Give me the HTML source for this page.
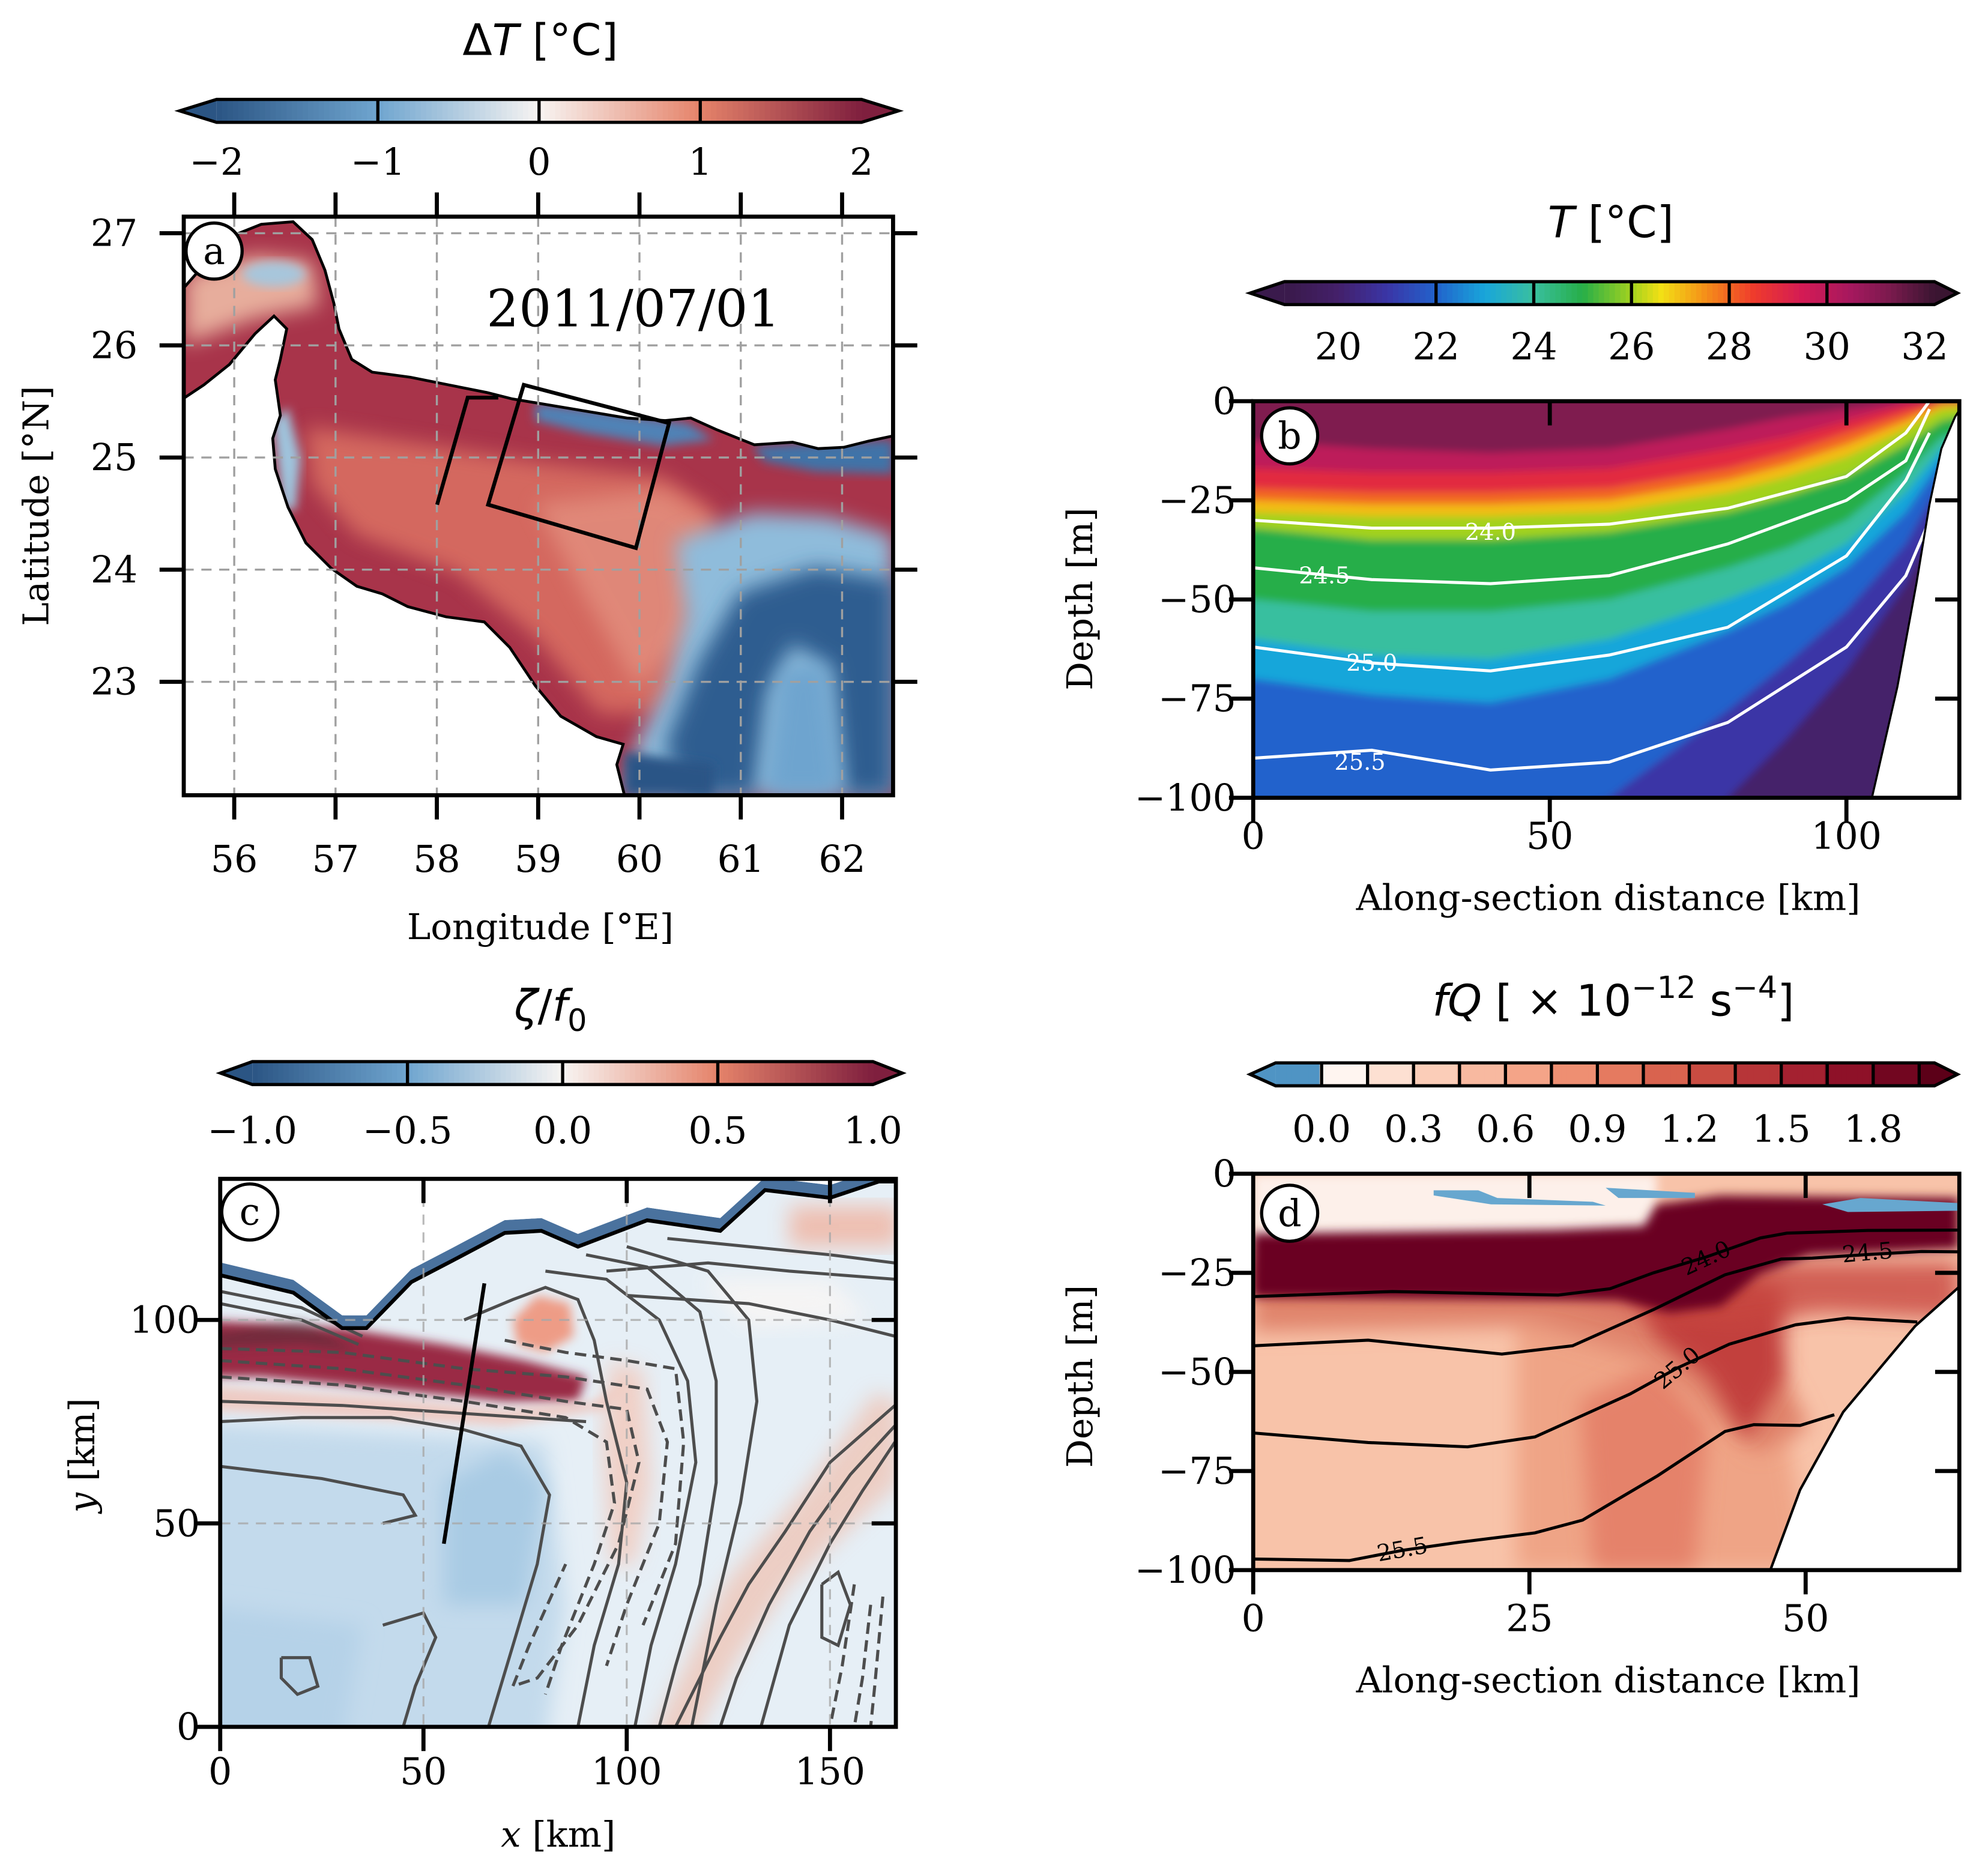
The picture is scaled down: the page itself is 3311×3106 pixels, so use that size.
<!DOCTYPE html>
<html><head><meta charset="utf-8"><style>
html,body{margin:0;padding:0;background:#fff;}
svg{display:block;}
.tk{font-family:"DejaVu Serif","Liberation Serif",serif;font-size:29px;fill:#000;}
.lb{font-family:"DejaVu Serif","Liberation Serif",serif;font-size:28px;fill:#000;}
.tt{font-family:"DejaVu Sans","Liberation Sans",sans-serif;font-size:34px;fill:#000;}
</style></head><body>
<svg id="fig" xmlns="http://www.w3.org/2000/svg" width="3311" height="3106" viewBox="0 0 1560 1463.4" preserveAspectRatio="none">
<defs>
<filter id="bl8" x="-20%" y="-20%" width="140%" height="140%"><feGaussianBlur stdDeviation="8"/></filter>
<filter id="bl4" x="-20%" y="-20%" width="140%" height="140%"><feGaussianBlur stdDeviation="4"/></filter>
<filter id="bl3" x="-5%" y="-5%" width="110%" height="110%"><feGaussianBlur stdDeviation="3"/></filter>
<clipPath id="clipA"><path d="M145,225 L160,208 L180,186 L205,176 L230,174 L245,188 L255,212 L262,238 L266,258 L276,282 L292,292 L322,296 L352,302 L382,308 L402,313 L432,318 L462,323 L492,328 L522,330 L542,328 L562,337 L592,349 L622,347 L642,352 L662,351 L682,346 L701,342 L701,624 L490,624 L484,600 L489,584 L468,578 L440,562 L420,538 L400,508 L380,488 L350,484 L320,476 L300,466 L280,460 L260,446 L240,426 L226,398 L216,368 L214,344 L220,326 L216,298 L220,282 L225,258 L215,248 L200,262 L180,286 L160,302 L145,312 Z"/></clipPath>
<clipPath id="clipB"><rect x="983.4" y="314.8" width="554.1" height="311.2"/></clipPath>
<clipPath id="clipC"><rect x="172.8" y="925" width="530.2" height="430"/></clipPath>
<clipPath id="clipD"><rect x="983.4" y="921" width="554.1" height="311"/></clipPath>
</defs>

<!-- ================= PANEL A ================= -->
<g>
<text class="tt" x="424" y="43" text-anchor="middle">Δ<tspan font-style="italic">T</tspan> [°C]</text>
<g id="cbA"></g>
<g clip-path="url(#clipA)">
  <rect x="144" y="170" width="557" height="454" fill="#a8344a"/>
  <path d="M240,335 L330,348 L420,362 L520,374 L560,400 L560,520 L520,560 L470,560 L420,500 L360,450 L280,420 L245,380 Z" fill="#d96e62" filter="url(#bl8)" opacity="0.9"/>
  <path d="M420,395 L520,385 L560,410 L540,500 L500,540 L460,470 Z" fill="#e59583" filter="url(#bl8)" opacity="0.7"/>
  <path d="M145,215 L200,200 L245,205 L250,240 L200,250 L145,270 Z" fill="#e7ad9c" filter="url(#bl8)"/>
  <ellipse cx="215" cy="215" rx="25" ry="10" fill="#a7c6dc" filter="url(#bl4)"/>
  <path d="M214,330 L226,320 L236,360 L232,400 L222,400 Z" fill="#9fc4dd" filter="url(#bl4)"/>
  <path d="M420,316 L470,322 L540,332 L560,345 L520,350 L460,340 L420,330 Z" fill="#4f82b6" filter="url(#bl4)"/>
  <path d="M590,350 L701,345 L701,372 L640,370 L600,362 Z" fill="#3f73a8" filter="url(#bl4)"/>
  <path d="M530,425 L590,402 L650,405 L701,420 L701,624 L490,624 L500,582 L522,540 L538,482 Z" fill="#8fbcdb" filter="url(#bl8)"/>
  <path d="M548,520 L580,465 L640,445 L701,455 L701,624 L662,624 L652,525 L622,505 L602,545 L592,624 L540,624 L522,585 Z" fill="#2f5d90" filter="url(#bl8)"/>
  <path d="M612,525 L648,520 L660,624 L600,624 Z" fill="#6ea4cf" filter="url(#bl8)"/>
  <path d="M490,590 L560,600 L560,624 L490,624 Z" fill="#2a5586" filter="url(#bl4)"/>
</g>
<path d="M145,225 L160,208 L180,186 L205,176 L230,174 L245,188 L255,212 L262,238 L266,258 L276,282 L292,292 L322,296 L352,302 L382,308 L402,313 L432,318 L462,323 L492,328 L522,330 L542,328 L562,337 L592,349 L622,347 L642,352 L662,351 L682,346 L701,342 M701,624 L490,624 L484,600 L489,584 L468,578 L440,562 L420,538 L400,508 L380,488 L350,484 L320,476 L300,466 L280,460 L260,446 L240,426 L226,398 L216,368 L214,344 L220,326 L216,298 L220,282 L225,258 L215,248 L200,262 L180,286 L160,302 L145,312" fill="none" stroke="#000" stroke-width="2.2"/>
<g id="gridA"></g>
<path d="M343,396 L367,312 L391,312" fill="none" stroke="#000" stroke-width="3"/>
<path d="M411,302 L525,332 L499,430 L383,396 Z" fill="none" stroke="#000" stroke-width="3"/>
<text x="497" y="256" font-family="DejaVu Serif, Liberation Serif, serif" font-size="40" text-anchor="middle">2011/07/01</text>
<rect x="144.2" y="170" width="556.6" height="454" fill="none" stroke="#000" stroke-width="3.2"/>
<g id="ticksA"></g>
<circle cx="168" cy="197" r="22" fill="#fff" stroke="#000" stroke-width="2.5"/>
<text class="tk" x="168" y="207" text-anchor="middle">a</text>
<text class="lb" x="424" y="737" text-anchor="middle">Longitude [°E]</text>
<text class="lb" transform="translate(38,397) rotate(-90)" text-anchor="middle">Latitude [°N]</text>
</g>

<!-- ================= PANEL B ================= -->
<g>
<text class="tt" x="1264" y="186" text-anchor="middle"><tspan font-style="italic">T</tspan> [°C]</text>
<g id="cbB"></g>
<g clip-path="url(#clipB)">
 <g id="fieldB" filter="url(#bl3)"></g>
 <g id="overB"></g>
</g>
<rect x="983.4" y="314.8" width="554.1" height="311.2" fill="none" stroke="#000" stroke-width="3.2"/>
<g id="ticksB"></g>
<circle cx="1012" cy="342" r="22" fill="#fff" stroke="#000" stroke-width="2.5"/>
<text class="tk" x="1012" y="352" text-anchor="middle">b</text>
<text class="lb" x="1262" y="714" text-anchor="middle">Along-section distance [km]</text>
<text class="lb" transform="translate(857,470) rotate(-90)" text-anchor="middle">Depth [m]</text>
</g>

<!-- ================= PANEL C ================= -->
<g>
<text class="tt" x="432" y="801" text-anchor="middle"><tspan font-style="italic">ζ</tspan>/<tspan font-style="italic">f</tspan><tspan font-size="24" dy="8">0</tspan></text>
<g id="cbC"></g>
<g clip-path="url(#clipC)">
  <g id="bgC"></g>
  <g id="contC"></g>
  <path id="landC" d="" fill="#fff" stroke="#4a729e" stroke-width="10"/>
  <path id="landC2" d="" fill="#fff"/>
  <path id="coastC" d="" fill="none" stroke="#000" stroke-width="3"/>
</g>
<g id="gridC"></g>
<path id="secC" d="" fill="none" stroke="#000" stroke-width="3"/>
<rect x="172.8" y="925" width="530.2" height="430" fill="none" stroke="#000" stroke-width="3.2"/>
<g id="ticksC"></g>
<circle cx="196" cy="951" r="22" fill="#fff" stroke="#000" stroke-width="2.5"/>
<text class="tk" x="196" y="961" text-anchor="middle">c</text>
<text class="lb" x="438" y="1449" text-anchor="middle"><tspan font-style="italic">x</tspan> [km]</text>
<text class="lb" transform="translate(74,1142) rotate(-90)" text-anchor="middle"><tspan font-style="italic">y</tspan> [km]</text>
</g>

<!-- ================= PANEL D ================= -->
<g>
<text class="tt" x="1266" y="797" text-anchor="middle"><tspan font-style="italic">fQ</tspan> [ × 10<tspan font-size="24" dy="-14">−12</tspan><tspan dy="14"> s</tspan><tspan font-size="24" dy="-14">−4</tspan><tspan dy="14">]</tspan></text>
<g id="cbD"></g>
<g clip-path="url(#clipD)">
  <rect x="983" y="921" width="556" height="312" fill="#f8c3a9"/>
  <path d="M1190,1030 L1300,1060 L1400,1110 L1420,1232 L1190,1232 Z" fill="#efa486" filter="url(#bl8)"/>
  <path d="M1240,1100 L1300,1070 L1340,1120 L1330,1232 L1250,1232 Z" fill="#e5826a" filter="url(#bl8)"/>
  <path d="M983,1005 L1220,1010 L1300,1030 L1390,1060 L1420,1120 L1380,1140 L1300,1070 L1200,1040 L983,1045 Z" fill="#e0846c" filter="url(#bl8)"/>
  <path d="M1280,1010 L1340,1000 L1400,1010 L1400,1080 L1370,1130 L1340,1080 L1300,1050 Z" fill="#c2413d" filter="url(#bl8)"/>
  <path d="M983,921 L1300,921 L1300,975 L983,975 Z" fill="#fdf0ea" filter="url(#bl4)"/>
  <path d="M983,1010 L1220,1015 L1300,1035 L1360,1040 L1430,1030 L1537,1035 L1537,990 L983,990 Z" fill="#c8473f" filter="url(#bl8)" opacity="0.8"/>
  <path d="M983,968 L1220,965 L1290,962 L1300,945 L1350,938 L1537,940 L1537,980 L1420,985 L1380,1000 L1350,1025 L1310,1030 L1270,1020 L983,1018 Z" fill="#6b0020" filter="url(#bl4)"/>
  <path d="M1260,932 L1330,936 L1330,940 L1270,940 Z" fill="#67a7cf"/>
  <path d="M1125,934 L1160,934 L1175,940 L1250,943 L1260,946 L1170,945 L1125,938 Z" fill="#67a7cf"/>
  <path d="M1430,945 L1460,940 L1537,944 L1537,950 L1450,951 Z" fill="#67a7cf"/>
  <path id="bathD" d="" fill="#fff" stroke="#000" stroke-width="2"/>
  <g id="contD"></g>
</g>
<rect x="983.4" y="921" width="554.1" height="311" fill="none" stroke="#000" stroke-width="3.2"/>
<g id="ticksD"></g>
<circle cx="1012" cy="952" r="22" fill="#fff" stroke="#000" stroke-width="2.5"/>
<text class="tk" x="1012" y="962" text-anchor="middle">d</text>
<text class="lb" x="1262" y="1328" text-anchor="middle">Along-section distance [km]</text>
<text class="lb" transform="translate(857,1080) rotate(-90)" text-anchor="middle">Depth [m]</text>
</g>
</svg>
<script>
// ---------- data ----------
const lonTicks=[56,57,58,59,60,61,62];
const latTicks=[23,24,25,26,27];
const cbATicks=[-2,-1,0,1,2];
const cbBTicks=[20,22,24,26,28,30,32];
const cbCTicks=[-1.0,-0.5,0.0,0.5,1.0];
const cbDTicks=[0.0,0.3,0.6,0.9,1.2,1.5,1.8];
const cbDLevels=[-0.15,0,0.15,0.3,0.45,0.6,0.75,0.9,1.05,1.2,1.35,1.5,1.65,1.8,1.95,2.0];
const bXTicks=[0,50,100];
const bYTicks=[0,-25,-50,-75,-100];
const cXTicks=[0,50,100,150];
const cYTicks=[0,50,100];
const dXTicks=[0,25,50];
const dYTicks=[0,-25,-50,-75,-100];
// panel b: isotherm depths
const bDist=[0,20,40,60,80,90,100,110,116,130];
const bIsoLevels=[30.5,29.5,28.5,27.5,26.5,25.5,24.5,23.5,22.5,21.5,20.5];
const bIso305=[-10,-12,-13,-12,-7,-4,-2,0,0,0];
const bIso295=[-17,-18,-18,-17,-12,-9,-5,-1,0,0];
const bIso285=[-22,-23,-23,-22,-17,-13,-8,-3,0,0];
const bIso275=[-25,-26,-26,-25,-20,-16,-11,-5,-1,0];
const bIso265=[-28,-29,-29,-28,-23,-19,-14,-7,-2,0];
const bIso255=[-32,-35,-35,-33,-28,-24,-19,-11,-5,0];
const bIso245=[-50,-53,-53,-50,-42,-37,-30,-18,-9,-3];
const bIso235=[-60,-64,-65,-60,-50,-44,-36,-23,-12,-5];
const bIso225=[-70,-74,-76,-70,-58,-51,-42,-28,-15,-7];
const bIso215=[-105,-108,-108,-100,-78,-66,-53,-36,-20,-9];
const bIso205=[-130,-130,-130,-125,-100,-85,-68,-46,-26,-12];
// panel b density contours
const bSigLabels=['24.0','24.5','25.0','25.5'];
const bSigDist=[0,20,40,60,80,100,110,114];
const bSig240=[-30,-32,-32,-31,-27,-19,-8,0];
const bSig245=[-42,-45,-46,-44,-36,-25,-15,-2];
const bSig250=[-62,-66,-68,-64,-57,-39,-20,-8];
const bSig255=[-90,-88,-93,-91,-81,-62,-44,-30];
const bBathDist=[104.3,108.6,111.8,114,116,118.3,120];
const bBathDepth=[-100,-72,-46,-26,-12,-4,0];
// panel c coast (x km, y km)
const cCoastX=[0,18,30,36,47,57,70,79,88,105,123,134,150,162,167];
const cCoastY=[111,106.7,98,98,109.3,114.5,121.4,121.9,118,124.5,121.9,131.9,130,134,134];
// panel c contours
const cSolid1X=[0,20,42,60,74,81,78,72,66], cSolid1Y=[75,76,76,73,69,57,40,20,0];
const cSolid2X=[0,25,45,48,40], cSolid2Y=[64,61,57,52,50];
const cSolid3X=[40,50,53,48,45], cSolid3Y=[25,28,22,10,0];
const cSolid4X=[15,22,24,19,15,15], cSolid4Y=[17,17,10,8,12,17];
const cSolid5X=[60,72,80,88,92,95,100,98,92,88], cSolid5Y=[100,105,108,105,95,80,60,40,20,0];
const cSolid6X=[80,95,108,115,117,112,106,102], cSolid6Y=[112,110,100,85,65,40,20,0];
const cSolid7X=[90,105,118,122,122,118,112,108], cSolid7Y=[116,113,102,85,60,35,15,0];
const cSolid8X=[100,120,130,132,128,122,116], cSolid8Y=[118,112,100,80,55,30,0];
const cSolid9X=[166,150,139,130,123,117,112], cSolid9Y=[79,65,48,35,22,10,0];
const cSolid10X=[166,155,145,135,127,123], cSolid10Y=[74,62,48,30,12,0];
const cSolid11X=[166,158,150,140,133], cSolid11Y=[70,58,45,25,0];
const cSolid12X=[148,152,155,152,148,148], cSolid12Y=[35,38,30,20,22,35];
const cSolid13X=[0,20,35], cSolid13Y=[107,103,96];
const cSolid14X=[110,130,150,166], cSolid14Y=[120,118,116,114];
const cSolid15X=[95,120,140,166], cSolid15Y=[112,114,112,110];
const cSolid16X=[100,130,150,166], cSolid16Y=[106,104,100,96];
const cSolid17X=[0,20,34], cSolid17Y=[104,100,94];
const cSolid18X=[0,30,60,90], cSolid18Y=[80,79,77,75];
const cDash1X=[0,30,60,85,100,103,98,88,78,72,76,85], cDash1Y=[90,88,84,80,78,65,45,25,12,10,20,40];
const cDash2X=[0,30,60,85,95,97,92,84,80], cDash2Y=[86,84,80,76,70,55,40,20,8];
const cDash3X=[0,30,60,85,105,110,108,100,95], cDash3Y=[93,92,88,86,83,70,50,30,15];
const cDash4X=[70,85,100,112,114,112,104], cDash4Y=[95,92,90,88,70,45,25];
const cDash5X=[156,153,150], cDash5Y=[35,15,0];
const cDash6X=[160,158,156], cDash6Y=[30,12,0];
const cDash7X=[163,161,160], cDash7Y=[32,10,0];
const cSecX=[55,65], cSecY=[45,109];
// panel d density contours
const dSig240D=[0,12.6,27.6,32.3,36.2,41,45.9,48.3,55.6,64.4], dSig240Z=[-31,-29.7,-30.6,-29,-25,-21,-16.2,-15,-14.3,-14.2];
const dSig245D=[0,10.4,22.5,28.9,36.2,42.7,47.8,50.6,55.6,60.5,64.4], dSig245Z=[-43.4,-42,-45.5,-43.4,-34.3,-25.5,-21.5,-21.3,-20.4,-19.6,-19.7];
const dSig250D=[0,10.4,19.4,25.5,34.1,38.4,43.1,49.1,53.8,60.1], dSig250Z=[-65.4,-67.8,-68.9,-66.4,-55.6,-49,-43,-38.1,-36.4,-37.4];
const dSig255D=[0,8.7,13.5,18.6,25.5,29.8,36.6,42.7,45.3,49.5,52.6], dSig255Z=[-97.2,-97.6,-95,-93,-90.6,-87.4,-76.2,-65,-63.3,-63.5,-60.8];
const dLabels=['24.0','24.5','25.0','25.5'];
const dLabelD=[41,55.6,38.4,13.5], dLabelZ=[-21.3,-19.9,-49,-94.8], dLabelRot=[-25,-5,-40,-10];
const dBathD=[46.8,49.5,53.4,59.9,64.4,66], dBathZ=[-100,-79.7,-60.1,-38.5,-27.3,-25];

// ---------- helpers ----------
const NS='http://www.w3.org/2000/svg';
function mk(tag,attrs,parent){const e=document.createElementNS(NS,tag);for(const k in attrs)e.setAttribute(k,attrs[k]);parent.appendChild(e);return e;}
function hex(c){return [parseInt(c.slice(1,3),16),parseInt(c.slice(3,5),16),parseInt(c.slice(5,7),16)];}
function cmap(stops,v){if(v<=stops[0][0])return stops[0][1];if(v>=stops[stops.length-1][0])return stops[stops.length-1][1];
 for(let i=1;i<stops.length;i++){if(v<=stops[i][0]){const t=(v-stops[i-1][0])/(stops[i][0]-stops[i-1][0]);const a=hex(stops[i-1][1]),b=hex(stops[i][1]);
 return 'rgb('+a.map((x,j)=>Math.round(x+(b[j]-x)*t)).join(',')+')';}}}
const thermal=[[19,'#3a1a4c'],[20,'#44206a'],[21,'#3a35a6'],[22,'#2262cc'],[23,'#19a6da'],[24,'#39bf9f'],[25,'#27ae48'],[26,'#a3d21f'],[26.6,'#f2e015'],[27.5,'#f59019'],[28.5,'#ef3b2c'],[29.5,'#d41b55'],[30.5,'#a5185e'],[31.3,'#7a1a4d'],[32.2,'#3a1531']];
const rdbu=[[-1,'#2b5584'],[-0.5,'#6fa5cf'],[0,'#f7f4f2'],[0.5,'#e5836a'],[1,'#7f1f3e']];
const dColors=['#4f94c4','#fff5f0','#fde0d2','#fbcdb8','#f8b9a0','#f4a488','#ee8f72','#e57a60','#d9634f','#c94c42','#b73538','#a42130','#8e1128','#720620','#5c0018'];
function fmt(v,d){const s=Math.abs(v).toFixed(d);return (v<0?'−':'')+s;}

function colorbar(gid,x0,x1,tipL,tipR,y0,y1,vmin,vmax,ticks,dec,fillFn,divs,labelY){
 const g=document.getElementById(gid);
 const sx=v=>x0+(v-vmin)/(vmax-vmin)*(x1-x0);
 const ym=(y0+y1)/2;
 const tl=mk('path',{d:`M${x0},${y0} L${tipL},${ym} L${x0},${y1} Z`,fill:fillFn(vmin-1e-3,true)},g);
 
 
 const tr=mk('path',{d:`M${x1},${y0} L${tipR},${ym} L${x1},${y1} Z`,fill:fillFn(vmax+1e-3,true)},g);
 
 
 const N=120;
 for(let i=0;i<N;i++){const v=vmin+(i+0.5)/N*(vmax-vmin);
  const r=mk('rect',{x:x0+i*(x1-x0)/N,y:y0,width:(x1-x0)/N+0.6,height:y1-y0,fill:fillFn(v,false)},g);
  
  }
 divs.forEach(v=>{const l=mk('line',{x1:sx(v),x2:sx(v),y1:y0,y2:y1,stroke:'#000','stroke-width':2.5},g);
  
  });
 const o=mk('path',{d:`M${x0},${y0} L${x1},${y0} L${tipR},${ym} L${x1},${y1} L${x0},${y1} L${tipL},${ym} Z`,fill:'none',stroke:'#000','stroke-width':2.5},g);
 
 
 ticks.forEach(v=>{const t=mk('text',{x:sx(v),y:labelY,'text-anchor':'middle',class:'tk'},g);t.textContent=fmt(v,dec);
  
  });
}
function ticks(gid,vals,pos,side,inward,len,labelFn,lx,ly,anchor){
 const g=document.getElementById(gid);
 vals.forEach(v=>{const p=pos(v);let a;
  if(side==='b')a=[p,ly[0],p,ly[0]+(inward?-len:len)];
  if(side==='t')a=[p,ly[0],p,ly[0]+(inward?len:-len)];
  if(side==='l')a=[lx[0],p,lx[0]+(inward?len:-len),p];
  if(side==='r')a=[lx[0],p,lx[0]+(inward?-len:len),p];
  const l=mk('line',{x1:a[0],y1:a[1],x2:a[2],y2:a[3],stroke:'#000','stroke-width':3.2},g);
  
  
  if(labelFn){const t=mk('text',{class:'tk','text-anchor':anchor,x:(side==='l'?lx[1]:p),y:(side==='l'?p+10:ly[1])},g);t.textContent=labelFn(v);
   
   }
 });
}
function pathOf(xs,ys,fx,fy){return xs.map((x,i)=>(i?'L':'M')+fx(x).toFixed(1)+','+fy(ys[i]).toFixed(1)).join(' ');}

// ---------- panel A ----------
const ax=v=>183.8+(v-56)*79.5, ay=v=>183+(27-v)*88;
colorbar('cbA',170,676,141,705,78,96,-2,2,cbATicks,0,(v)=>cmap(rdbu,v/2),[-1,0,1],137);
const gA=document.getElementById('gridA');
lonTicks.forEach(v=>{const l=mk('line',{x1:ax(v),x2:ax(v),y1:170,y2:624,stroke:'#a0a0a0','stroke-width':1.6,'stroke-dasharray':'8,6'},gA);
 
 });
latTicks.forEach(v=>{const l=mk('line',{x1:144,x2:701,y1:ay(v),y2:ay(v),stroke:'#a0a0a0','stroke-width':1.6,'stroke-dasharray':'8,6'},gA);
 
 });
ticks('ticksA',lonTicks,ax,'b',false,19,v=>String(v),null,[624,684],'middle');
ticks('ticksA',lonTicks,ax,'t',false,19,null,null,[170,0],'middle');
ticks('ticksA',latTicks,ay,'l',false,19,v=>String(v),[144.2,108],null,'end');
ticks('ticksA',latTicks,ay,'r',false,19,null,[700.8,0],null,'end');

// ---------- panel B ----------
const bx=v=>983.4+v*4.655, by=v=>314.8-v*3.112;
colorbar('cbB',1008,1518,981,1536,221,239,18.9,32.2,cbBTicks,0,(v)=>cmap(thermal,v),[22,24,26,28,30],282);
const fB=document.getElementById('fieldB');
const bg=mk('rect',{x:975,y:300,width:580,height:340,fill:cmap(thermal,31.2)},fB);


const bIsoAll=[bIso305,bIso295,bIso285,bIso275,bIso265,bIso255,bIso245,bIso235,bIso225,bIso215,bIso205];
bIsoAll.forEach((arr,i)=>{const d='M'+bx(-5)+','+by(arr[0])+' '+pathOf(bDist,arr,bx,by).replace('M','L')+` L${bx(130)},${by(-140)} L${bx(-5)},${by(-140)} Z`;
 const p=mk('path',{d:d,fill:cmap(thermal,bIsoLevels[i]-0.5)},fB);
 
 });
const oB=document.getElementById('overB');
[bSig240,bSig245,bSig250,bSig255].forEach((arr,i)=>{const p=mk('path',{d:pathOf(bSigDist,arr,bx,by),fill:'none',stroke:'#fff','stroke-width':2.4},oB);
 
 });
const bLabX=[40,12,20,18], bLabY=[-33,-44,-66,-91];
bSigLabels.forEach((s,i)=>{const t=mk('text',{x:bx(bLabX[i]),y:by(bLabY[i])+6,'text-anchor':'middle','font-family':'DejaVu Serif, Liberation Serif, serif','font-size':18,fill:'#fff'},oB);t.textContent=s;
 
 });
const bb=mk('path',{d:pathOf(bBathDist,bBathDepth,bx,by)+` L${bx(125)},${by(0)} L${bx(125)},${by(-110)} Z`,fill:'#fff',stroke:'#000','stroke-width':1.6},oB);


ticks('ticksB',bXTicks,bx,'b',false,19,v=>String(v),null,[626,666],'middle');
ticks('ticksB',bXTicks.slice(1),bx,'t',true,19,null,null,[314.8,0],'middle');
ticks('ticksB',bYTicks,by,'l',false,19,v=>fmt(v,0),[983.4,970],null,'end');
ticks('ticksB',bYTicks.slice(1,4),by,'r',true,19,null,[1537.5,0],null,'end');

// ---------- panel C ----------
const cx=v=>172.8+v*3.19, cy=v=>1355-v*3.193;
function kp(pts){return pts.map((p,i)=>(i?'L':'M')+cx(p[0]).toFixed(1)+','+cy(p[1]).toFixed(1)).join(' ')+' Z';}
colorbar('cbC',198,685,173,708,833,851,-1,1,cbCTicks,1,(v)=>cmap(rdbu,v),[-0.5,0,0.5],897);
const bgC=document.getElementById('bgC');
[
 [[[-5,-5],[170,-5],[170,140],[-5,140]],'#e6eff6',null,1],
 [[[-5,-5],[80,-5],[85,30],[80,70],[-5,75]],'#c3daec','url(#bl8)',1],
 [[[55,30],[75,30],[80,60],[70,68],[55,60]],'#a9cbe4','url(#bl8)',1],
 [[[-5,-5],[30,-5],[35,25],[-5,30]],'#b5d2e8','url(#bl8)',1],
 [[[-5,100],[30,98],[55,94],[75,90],[90,86],[88,80],[70,80],[40,83],[10,86],[-5,86]],'#9a2a45','url(#bl4)',1],
 [[[-5,84],[40,81],[70,78],[92,80],[100,85],[95,78],[70,74],[30,76],[-5,78]],'#f0c2b8','url(#bl4)',0.8],
 [[[73,94],[80,92],[87,96],[86,104],[78,106],[72,100]],'#ee9c86','url(#bl4)',1],
 [[[96,90],[104,88],[106,60],[102,40],[96,40],[94,70]],'#f3c8ba','url(#bl8)',0.8],
 [[[161,82],[167,80],[167,60],[140,35],[128,18],[115,-5],[105,-5],[112,10],[124,35],[145,60]],'#f1b7a2','url(#bl8)',0.6],
 [[[140,118],[167,118],[167,128],[140,128]],'#f0b3a0','url(#bl8)',0.8],
 [[[118,110],[150,110],[160,100],[130,98]],'#f7f5f4','url(#bl8)',0.9],
 [[[-5,96],[20,100],[34,92],[20,94],[-5,93]],'#2f2f2f','url(#bl4)',0.35]
].forEach(s=>{const p=mk('path',{d:kp(s[0]),fill:s[1],opacity:s[3]},bgC);if(s[2])p.setAttribute('filter',s[2]);
 
 });
const gC=document.getElementById('contC');
const solids=[[cSolid1X,cSolid1Y],[cSolid2X,cSolid2Y],[cSolid3X,cSolid3Y],[cSolid4X,cSolid4Y],[cSolid5X,cSolid5Y],[cSolid6X,cSolid6Y],[cSolid7X,cSolid7Y],[cSolid8X,cSolid8Y],[cSolid9X,cSolid9Y],[cSolid10X,cSolid10Y],[cSolid11X,cSolid11Y],[cSolid12X,cSolid12Y],[cSolid13X,cSolid13Y],[cSolid14X,cSolid14Y],[cSolid15X,cSolid15Y],[cSolid16X,cSolid16Y],[cSolid17X,cSolid17Y],[cSolid18X,cSolid18Y]];
solids.forEach(s=>{const p=mk('path',{d:pathOf(s[0],s[1],cx,cy),fill:'none',stroke:'#4d4d4d','stroke-width':2.4},gC);
 
 });
const dashes=[[cDash1X,cDash1Y],[cDash2X,cDash2Y],[cDash3X,cDash3Y],[cDash4X,cDash4Y],[cDash5X,cDash5Y],[cDash6X,cDash6Y],[cDash7X,cDash7Y]];
dashes.forEach(s=>{const p=mk('path',{d:pathOf(s[0],s[1],cx,cy),fill:'none',stroke:'#4d4d4d','stroke-width':2.4,'stroke-dasharray':'9,5'},gC);
 
 });
const coastD=pathOf(cCoastX,cCoastY,cx,cy);
document.getElementById('coastC').setAttribute('d',coastD);
const landD=coastD+` L${cx(170)},${cy(145)} L${cx(-5)},${cy(145)} L${cx(-5)},${cy(cCoastY[0])} Z`;
document.getElementById('landC').setAttribute('d',landD);
document.getElementById('landC').setAttribute('transform','translate(0,-5)');
document.getElementById('landC2').setAttribute('d',landD);
document.getElementById('landC2').setAttribute('transform','translate(0,-10)');
document.getElementById('secC').setAttribute('d',pathOf(cSecX,cSecY,cx,cy));
const gCg=document.getElementById('gridC');
cXTicks.slice(1).forEach(v=>{const l=mk('line',{x1:cx(v),x2:cx(v),y1:925,y2:1355,stroke:'#a8a8a8','stroke-width':1.5,'stroke-dasharray':'8,6',opacity:0.8},gCg);
 
 });
cYTicks.slice(1).forEach(v=>{const l=mk('line',{x1:172.8,x2:703,y1:cy(v),y2:cy(v),stroke:'#a8a8a8','stroke-width':1.5,'stroke-dasharray':'8,6',opacity:0.8},gCg);
 
 });
ticks('ticksC',cXTicks,cx,'b',false,19,v=>String(v),null,[1355,1400],'middle');
ticks('ticksC',cXTicks.slice(1),cx,'t',true,19,null,null,[925,0],'middle');
ticks('ticksC',cYTicks,cy,'l',false,19,v=>String(v),[172.8,157],null,'end');
ticks('ticksC',cYTicks.slice(1),cy,'r',true,19,null,[703,0],null,'end');

// ---------- panel D ----------
const dx=v=>983.4+v*8.67, dy=v=>921-v*3.11;
colorbar('cbD',1001,1518,981,1536,834,852,-0.15,2.0,cbDTicks,1,(v,ext)=>{if(v<0)return dColors[0];let k=Math.floor(v/0.15)+1;if(k>14)k=14;return dColors[k];},cbDLevels.slice(1,15),896);
document.getElementById('bathD').setAttribute('d',pathOf(dBathD,dBathZ,dx,dy)+` L${dx(66)},${dy(-110)} L${dx(46)},${dy(-110)} Z`);
const gD=document.getElementById('contD');
[[dSig240D,dSig240Z],[dSig245D,dSig245Z],[dSig250D,dSig250Z],[dSig255D,dSig255Z]].forEach((s,i)=>{const p=mk('path',{d:pathOf(s[0],s[1],dx,dy),fill:'none',stroke:'#000','stroke-width':2.4},gD);
 
 });
dLabels.forEach((s,i)=>{const X=dx(dLabelD[i]),Y=dy(dLabelZ[i]);
 const t=mk('text',{x:X,y:Y+6,'text-anchor':'middle','font-family':'DejaVu Serif, Liberation Serif, serif','font-size':18,fill:'#000',transform:`rotate(${dLabelRot[i]},${X},${Y})`},gD);t.textContent=s;
 
 });
ticks('ticksD',dXTicks,dx,'b',false,19,v=>String(v),null,[1232,1280],'middle');
ticks('ticksD',dXTicks.slice(1),dx,'t',true,19,null,null,[921,0],'middle');
ticks('ticksD',dYTicks,dy,'l',false,19,v=>fmt(v,0),[983.4,970],null,'end');
ticks('ticksD',dYTicks.slice(1,4),dy,'r',true,19,null,[1537.5,0],null,'end');
</script>
</body></html>
